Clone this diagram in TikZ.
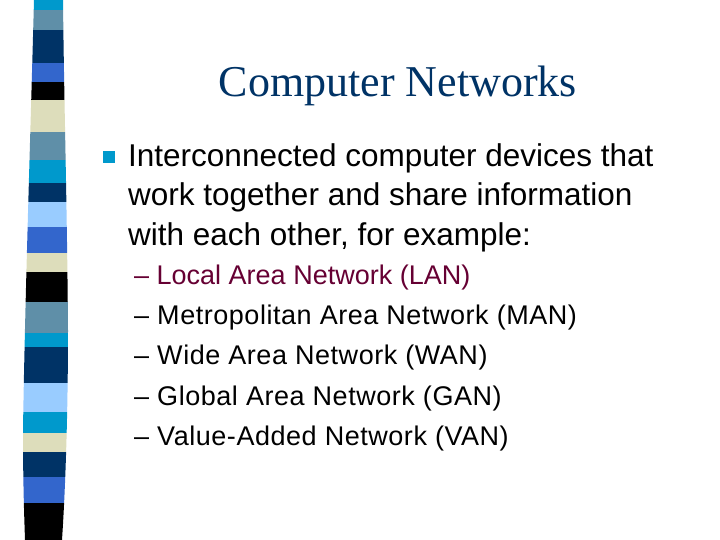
\documentclass[tikz,border=0pt]{standalone}
\usepackage{fontspec}
\setmainfont{Liberation Sans}
\newfontfamily\titlefont{Liberation Serif}
\definecolor{sCyan}{HTML}{0099CC}
\definecolor{sGray}{HTML}{5F8FA8}
\definecolor{sNavy}{HTML}{003366}
\definecolor{sRoyal}{HTML}{3366CC}
\definecolor{sBeige}{HTML}{DDDDBB}
\definecolor{sLight}{HTML}{99CCFF}
\definecolor{subred}{HTML}{660033}
\begin{document}
\begin{tikzpicture}[x=1pt,y=-1pt,
  body/.style={anchor=base west,inner sep=0,font=\fontsize{31.5}{31.5}\selectfont},
  sub/.style={anchor=base west,inner sep=0,font=\fontsize{27}{27}\selectfont\addfontfeature{LetterSpace=2}}]
\useasboundingbox (0,0) rectangle (720,540);
\fill[white] (0,0) rectangle (720,540);
\begin{scope}
\clip (34,0) .. controls (30,150) and (25,300) .. (23,430) .. controls (23,480) and (24,510) .. (25,540)
 -- (62,540) .. controls (66,480) and (68,400) .. (68,330) .. controls (67,200) and (64,100) .. (63,0) -- cycle;
\foreach \a/\b/\c in {0/10/sCyan,10/30/sGray,30/63/sNavy,63/82/sRoyal,82/100/black,100/132/sBeige,132/160/sGray,160/183/sCyan,183/202/sNavy,202/227/sLight,227/253/sRoyal,253/272/sBeige,272/302/black,302/333/sGray,333/347/sCyan,347/383/sNavy,383/412/sLight,412/433/sCyan,433/452/sBeige,452/477/sNavy,477/503/sRoyal,503/540/black}
  \fill[\c] (0,\a) rectangle (80,\b);
\end{scope}
\node[anchor=base,inner sep=0,text=sNavy,font=\titlefont\fontsize{44}{44}\selectfont] (title) at (398,97) {Computer Networks};
\node[fill=sCyan,minimum size=12,inner sep=0] (bul) at (109,157) {};
\node[body] (l1) at (128,167) {Interconnected computer devices that};
\node[body] (l2) at (128,206) {work together and share information};
\node[body] (l3) at (128,245) {with each other, for example:};
\node[sub,text=subred,font=\fontsize{27}{27}\selectfont] (s1) at (134,284) {– Local Area Network (LAN)};
\node[sub] (s2) at (134,324) {– Metropolitan Area Network (MAN)};
\node[sub] (s3) at (134,364) {– Wide Area Network (WAN)};
\node[sub] (s4) at (134,405) {– Global Area Network (GAN)};
\node[sub] (s5) at (134,445) {– Value-Added Network (VAN)};
\end{tikzpicture}
\end{document}
